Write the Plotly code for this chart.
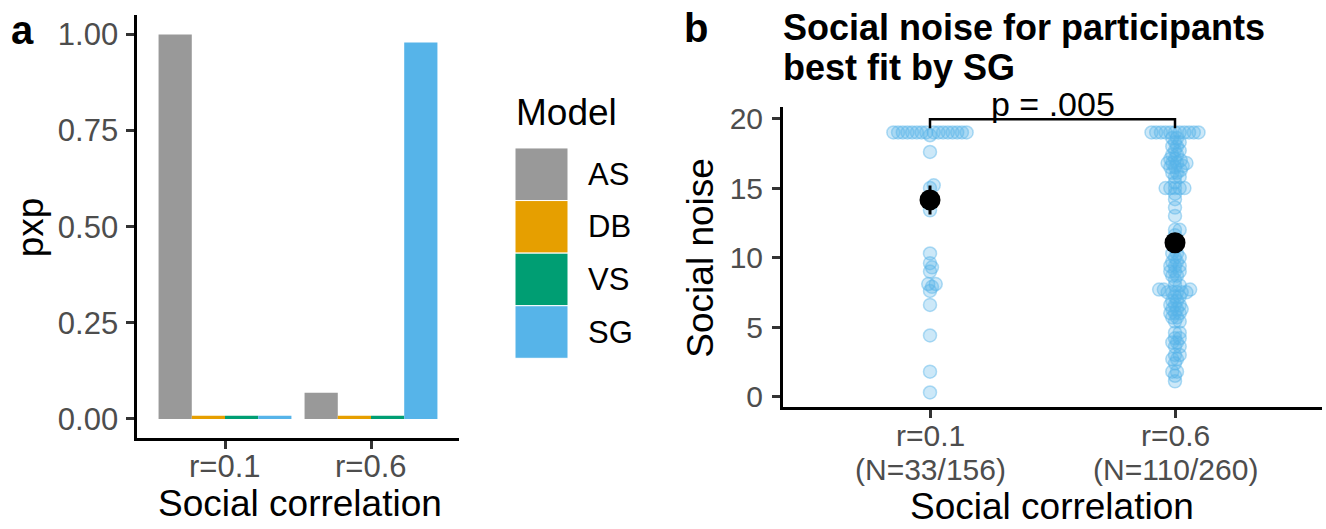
import numpy as np
import plotly.graph_objects as go

# ---------------- data ----------------
# panel a: protected exceedance probability per model and social correlation
corr_labels = ["r=0.1", "r=0.6"]
models = ["AS", "DB", "VS", "SG"]
model_colors = ["#999999", "#E69F00", "#009E73", "#56B4E9"]
pxp_AS = [1.0, 0.068]
pxp_DB = [0.008, 0.008]
pxp_VS = [0.008, 0.008]
pxp_SG = [0.008, 0.979]

# panel b: social noise estimates of participants best fit by SG
group_counts = ["(N=33/156)", "(N=110/260)"]
noise_r01 = [19.0] * 16 + [
    18.8, 17.6, 15.2, 15.0, 13.4, 10.3, 9.6, 9.3, 9.0,
    8.1, 8.1, 7.9, 7.6, 6.6, 4.4, 1.8, 0.3,
]
noise_r06 = [19.0] * 11 + [
    18.6, 18.6, 18.3, 18.3, 18.0, 18.0, 17.7, 17.7, 17.4, 17.4,
    17.1, 17.1, 17.0, 16.8, 16.8, 16.8, 16.8, 16.6, 16.5, 16.5,
    16.3, 16.1, 16.1, 15.8, 15.8, 15.4, 15.0, 15.0, 15.0, 15.0,
    15.0, 14.6, 14.2, 13.6, 13.0, 12.0, 12.0, 11.6, 11.2, 10.7,
    10.3, 10.3, 10.0, 10.0, 9.7, 9.7, 9.4, 9.4, 9.4, 9.0,
    9.0, 9.0, 8.7, 8.7, 8.4, 8.0, 8.0, 7.7, 7.7, 7.7,
    7.5, 7.5, 7.5, 7.5, 7.5, 7.2, 7.2, 6.9, 6.9, 6.6,
    6.6, 6.6, 6.3, 6.3, 6.3, 6.0, 6.0, 6.0, 5.7, 5.7,
    5.4, 5.4, 4.6, 4.6, 4.2, 4.2, 3.9, 3.9, 3.6, 3.6,
    3.0, 3.0, 2.7, 2.7, 2.4, 1.8, 1.8, 1.5, 1.1,
]
p_label = "p = .005"

# ---------------- layout geometry (pixels) ----------------
W, H = 1326, 529
FONT = "Liberation Sans, Arial, sans-serif"
TICK_GREY = "#4D4D4D"
TICK_A = 31
TICK_B = 30
TITLE_SIZE = 37
HEAD_SIZE = 36


def px(x):
    return x / W


def py(y):
    return 1 - y / H


A_X = (137.4, 458.6)
A_Y = (10.4, 442.3)          # top, bottom
A_XR = [-0.6, 1.6]
A_YR = [-0.05, 1.05]

B_X = (783.0, 1322.0)
B_Y = (104.2, 410.2)
B_XR = [-0.6, 1.6]
B_YR = [-0.72, 20.83]

b_px_x = (B_X[1] - B_X[0]) / (B_XR[1] - B_XR[0])
b_px_y = (B_Y[1] - B_Y[0]) / (B_YR[1] - B_YR[0])


def swarm_offsets(values, unit_px, spacing):
    """Beeswarm: place points in ascending order at the nearest free
    horizontal offset (pixels) so that no two centres are closer than spacing."""
    vals = np.asarray(values, dtype=float)
    order = np.argsort(vals, kind="stable")
    placed = []
    out = np.zeros(len(vals))
    for i in order:
        yv = vals[i] * unit_px
        cands = [0.0]
        for xj, yj in placed:
            dy = abs(yv - yj)
            if dy < spacing:
                dx = np.sqrt(spacing ** 2 - dy ** 2)
                cands += [xj + dx, xj - dx]
        cands.sort(key=lambda c: (round(abs(c), 6), -c))
        for c in cands:
            if all((c - xj) ** 2 + (yv - yj) ** 2 >= spacing ** 2 - 1e-6
                   for xj, yj in placed):
                out[i] = c
                placed.append((c, yv))
                break
    return out


fig = go.Figure()

# ---------------- panel a: bars ----------------
pxp_by_model = [pxp_AS, pxp_DB, pxp_VS, pxp_SG]
for name, col, vals in zip(models, model_colors, pxp_by_model):
    fig.add_trace(go.Bar(
        x=list(range(len(corr_labels))), y=vals, name=name,
        marker=dict(color=col, line=dict(width=0)),
        xaxis="x", yaxis="y", showlegend=False,
    ))

# ---------------- panel b: beeswarm + mean ± SE ----------------
SWARM_SPACING = 4.7
groups = [noise_r01, noise_r06]
for gi, vals in enumerate(groups):
    offs = swarm_offsets(vals, b_px_y, SWARM_SPACING)
    fig.add_trace(go.Scatter(
        x=gi + offs / b_px_x, y=vals, mode="markers",
        marker=dict(size=13, color="rgba(86,180,233,0.30)",
                    line=dict(color="rgba(86,180,233,0.45)", width=1.5)),
        xaxis="x2", yaxis="y2", showlegend=False, hoverinfo="y",
    ))

means = [float(np.mean(v)) for v in groups]
ses = [float(np.std(v, ddof=1) / np.sqrt(len(v))) for v in groups]
fig.add_trace(go.Scatter(
    x=list(range(len(groups))), y=means, mode="markers",
    marker=dict(size=21, color="black"),
    error_y=dict(type="data", array=ses, color="black", thickness=3, width=0),
    xaxis="x2", yaxis="y2", showlegend=False,
))

# significance bracket
BR_Y, BR_TIP = 19.95, 19.3
fig.add_trace(go.Scatter(
    x=[0, 0, 1, 1], y=[BR_TIP, BR_Y, BR_Y, BR_TIP], mode="lines",
    line=dict(color="black", width=2.5), xaxis="x2", yaxis="y2",
    showlegend=False, hoverinfo="skip",
))

axis_common = dict(
    showline=True, linecolor="black", linewidth=3,
    ticks="outside", ticklen=8, tickwidth=3, tickcolor="#333333",
    showgrid=False, zeroline=False,
)

fig.update_layout(
    width=W, height=H, margin=dict(l=0, r=0, t=0, b=0),
    paper_bgcolor="white", plot_bgcolor="white",
    barmode="group", bargap=0.09, bargroupgap=0,
    xaxis=dict(domain=[px(A_X[0]), px(A_X[1])], range=A_XR, anchor="y",
               tickvals=[0, 1], showticklabels=False, **axis_common),
    yaxis=dict(domain=[py(A_Y[1]), py(A_Y[0])], range=A_YR, anchor="x",
               tickvals=[0, 0.25, 0.5, 0.75, 1.0], tickformat=".2f",
               ticklabelstandoff=2,
               tickfont=dict(family=FONT, size=TICK_A, color=TICK_GREY),
               **axis_common),
    xaxis2=dict(domain=[px(B_X[0]), px(B_X[1])], range=B_XR, anchor="y2",
                tickvals=[0, 1], showticklabels=False, **axis_common),
    yaxis2=dict(domain=[py(B_Y[1]), py(B_Y[0])], range=B_YR, anchor="x2",
                tickvals=[0, 5, 10, 15, 20], ticklabelstandoff=3,
                tickfont=dict(family=FONT, size=TICK_B, color=TICK_GREY),
                **axis_common),
    font=dict(family=FONT),
)

ann = []


def label(text, x, y, size, color="black", bold=False, xanchor="center",
          angle=0, xref="paper"):
    ann.append(dict(
        text=f"<b>{text}</b>" if bold else text,
        x=x if xref != "paper" else px(x), y=py(y),
        xref=xref, yref="paper",
        xanchor=xanchor, yanchor="middle", showarrow=False, textangle=angle,
        font=dict(family=FONT, size=size, color=color),
    ))


# panel tags and titles
label("a", 22, 25.5, 40, bold=True)
label("b", 696, 23.5, 40, bold=True)
label("Social noise for participants", 781, 23, HEAD_SIZE, bold=True,
      xanchor="left")
label("best fit by SG", 781, 64, HEAD_SIZE, bold=True, xanchor="left")

# category labels under the x axes
for gi, txt in enumerate(corr_labels):
    label(txt, gi, 471.5, TICK_A, color=TICK_GREY, xref="x")
    label(txt, gi, 440, TICK_B, color=TICK_GREY, xref="x2")
for gi, txt in enumerate(group_counts):
    label(txt, gi, 474, TICK_B, color=TICK_GREY, xref="x2")

# axis titles
label("pxp", 30, 227, TITLE_SIZE, angle=-90)
label("Social correlation", 300, 509.5, TITLE_SIZE)
label("Social noise", 701, 258, TITLE_SIZE, angle=-90)
label("Social correlation", 1052, 512.5, TITLE_SIZE)

# p-value above bracket
label(p_label, 0.5, 101, 34, xref="x2")

# legend for panel a
label("Model", 514, 110, TITLE_SIZE, xanchor="left")
KEY_X0, KEY_X1, KEY_Y0, KEY_H = 515, 568, 146, 53.7
shapes = []
for k, (name, col) in enumerate(zip(models, model_colors)):
    y0 = KEY_Y0 + k * KEY_H
    shapes.append(dict(
        type="rect", xref="paper", yref="paper",
        x0=px(KEY_X0), x1=px(KEY_X1), y0=py(y0 + KEY_H), y1=py(y0),
        fillcolor=col, line=dict(color="white", width=1),
    ))
    label(name, 586, y0 + KEY_H / 2, TICK_A, xanchor="left")

fig.update_layout(annotations=ann, shapes=shapes)
fig.write_html("out.html")
